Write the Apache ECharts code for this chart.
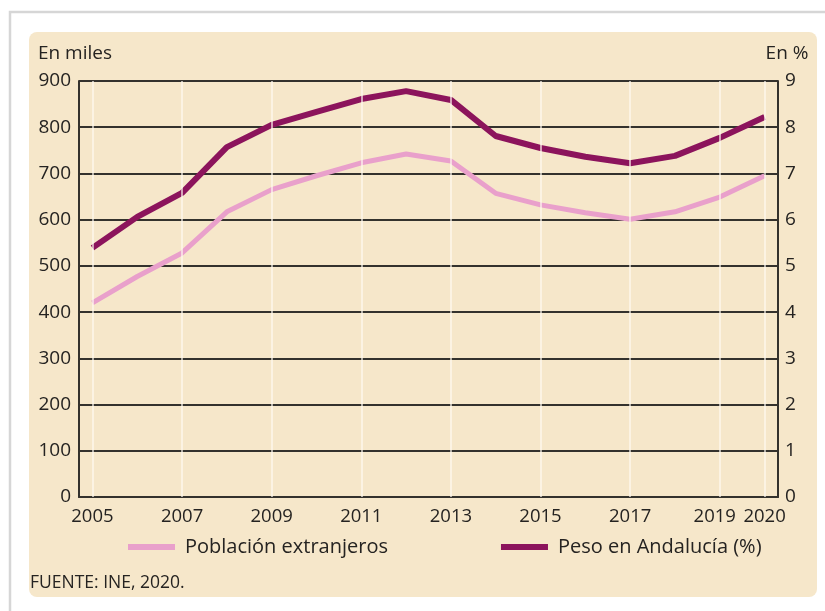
<!DOCTYPE html>
<html>
<head>
<meta charset="utf-8">
<script src="https://cdn.jsdelivr.net/npm/echarts@6/dist/echarts.min.js"></script>
<style>
html,body{margin:0;padding:0;background:#fff;}
#c{width:825px;height:611px;}
</style>
</head>
<body>
<div id="c"></div>
<script>
var years = [2005,2006,2007,2008,2009,2010,2011,2012,2013,2014,2015,2016,2017,2018,2019,2020];
var poblacion = [420,477,528,617,665,695,723,742,727,657,632,615,601,617,649,695];
var peso = [5.39,6.06,6.58,7.57,8.05,8.33,8.61,8.78,8.59,7.81,7.55,7.36,7.22,7.38,7.77,8.22];
var xLabels = [2005,2007,2009,2011,2013,2015,2017,2019,2020];
var leftName = 'En miles';
var rightName = 'En %';
var seriesNames = ['Población extranjeros','Peso en Andalucía (%)'];
var sourceText = 'FUENTE: INE, 2020.';

var FONT = 'Open Sans';
var TXT = '#252321';
var GRID = '#34322d';
var PINK = '#e9a0cb';
var DARK = '#8c145c';

var chart = echarts.init(document.getElementById('c'), null, {renderer:'canvas'});
chart.setOption({
  backgroundColor: '#ffffff',
  animation: false,
  textStyle: {fontFamily: FONT},
  graphic: [
    {type:'rect', z:-21, shape:{x:10,y:12,width:830,height:610}, style:{fill:'#ffffff', stroke:'#d6d6d6', lineWidth:2.5}},
    {type:'rect', z:-19, shape:{x:29,y:32,width:788,height:565,r:8}, style:{fill:'#f6e7ca'}},
    {type:'text', z:5, left:30, top:574, style:{text:sourceText, fill:TXT, font:'17.5px "Open Sans"'}}
  ],
  grid: {left:79, right:47, top:81, bottom:114},
  legend: {
    left: 128, top: 537, padding: 0, itemWidth: 47, itemHeight: 6, itemGap: 113,
    icon: 'rect',
    textStyle: {fontFamily: FONT, fontSize: 20, color: TXT, padding:[0,0,0,5]},
    data: [
      {name: seriesNames[0], itemStyle:{color:PINK}},
      {name: seriesNames[1], itemStyle:{color:DARK}}
    ]
  },
  xAxis: {
    type: 'value', min: 2004.7, max: 2020.3,
    axisLine: {show:true, onZero:false, lineStyle:{color:GRID, width:2}},
    axisTick: {show:false},
    splitLine: {show:false},
    axisLabel: {
      customValues: xLabels, color: TXT, fontSize: 18.5, fontFamily: FONT, margin: 10,
      formatter: function(v){ return v === 2019 ? '{s|' + v + '}' : String(v); },
      rich: {s: {fontSize: 18.5, fontFamily: FONT, color: TXT, padding: [0, 10, 0, 0]}}
    }
  },
  yAxis: [
    {
      type:'value', min:0, max:900, interval:100,
      name: leftName, nameLocation:'end', nameGap: 18,
      nameTextStyle:{color:TXT, fontSize:19, fontFamily:FONT, align:'center', padding:[0,8,0,0]},
      axisLine:{show:true, lineStyle:{color:GRID, width:2}},
      axisTick:{show:false},
      splitLine:{show:true, lineStyle:{color:GRID, width:1.8}},
      axisLabel:{color:TXT, fontSize:19, fontFamily:FONT, margin:8}
    },
    {
      type:'value', min:0, max:9, interval:1, position:'right',
      name: rightName, nameLocation:'end', nameGap: 18,
      nameTextStyle:{color:TXT, fontSize:19, fontFamily:FONT, align:'center', padding:[0,0,0,18]},
      axisLine:{show:true, lineStyle:{color:GRID, width:2}},
      axisTick:{show:false},
      splitLine:{show:false},
      axisLabel:{color:TXT, fontSize:19, fontFamily:FONT, margin:7}
    }
  ],
  series: [
    {
      name: seriesNames[0], type:'line', yAxisIndex:0, symbol:'none', smooth:false,
      data: years.map(function(y,i){return [y, poblacion[i]];}),
      lineStyle:{color:PINK, width:5},
      itemStyle:{color:PINK},
      markLine:{
        silent:true, symbol:'none', label:{show:false},
        lineStyle:{color:'#fffaf0', width:1.5, type:'solid', opacity:0.85},
        data: xLabels.map(function(v){return {xAxis:v};})
      },
      z: 3
    },
    {
      name: seriesNames[1], type:'line', yAxisIndex:1, symbol:'none', smooth:false,
      data: years.map(function(y,i){return [y, peso[i]];}),
      lineStyle:{color:DARK, width:6},
      itemStyle:{color:DARK},
      z: 4
    }
  ]
});
</script>
</body>
</html>
